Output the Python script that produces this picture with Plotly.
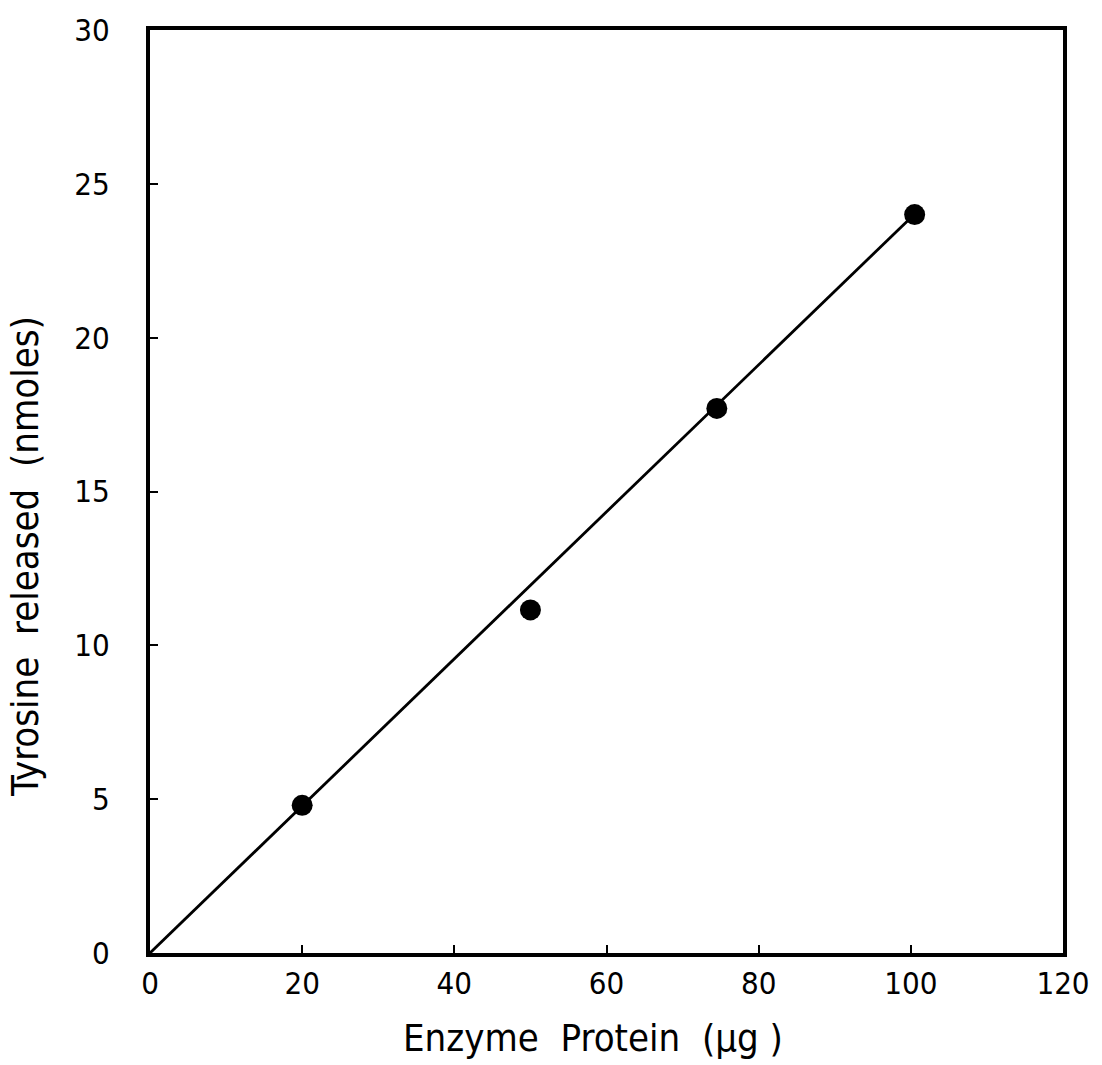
import plotly.graph_objects as go

protein_ug = [20, 50, 74.5, 100.5]
tyrosine_nmol = [4.8, 11.15, 17.7, 24.0]
fit_x = [0, 100]
fit_y = [0, 23.9]
x_ticks = [0, 20, 40, 60, 80, 100, 120]
y_ticks = [0, 5, 10, 15, 20, 25, 30]
x_title = "Enzyme  Protein  (μg )"
y_title = "Tyrosine  released  (nmoles)"

font = "DejaVu Sans Condensed, DejaVu Sans"

fig = go.Figure()
fig.add_trace(go.Scatter(x=fit_x, y=fit_y, mode="lines",
                         line=dict(color="black", width=2.8), showlegend=False))
fig.add_trace(go.Scatter(x=protein_ug, y=tyrosine_nmol, mode="markers",
                         marker=dict(color="black", size=21), showlegend=False))

fig.update_layout(
    width=1102, height=1065,
    margin=dict(l=150, r=30, t=30, b=112),
    paper_bgcolor="white", plot_bgcolor="white",
    font=dict(family=font, color="black", size=28),
    annotations=[
        dict(text=x_title, xref="paper", yref="paper", x=0.485, y=-0.092,
             xanchor="center", yanchor="middle", showarrow=False,
             font=dict(size=38)),
        dict(text=y_title, xref="paper", yref="paper", x=-0.137, y=0.43,
             xanchor="center", yanchor="middle", showarrow=False, textangle=-90,
             font=dict(size=38)),
    ],
)
fig.update_xaxes(
    range=[0, 120], tickvals=x_ticks, ticktext=[str(v) for v in x_ticks],
    ticks="inside", ticklen=8, tickwidth=2, tickcolor="black",
    showline=True, linecolor="black", linewidth=4, mirror=True,
    showgrid=False, zeroline=False,
    tickfont=dict(size=31), ticklabelstandoff=0,
)
fig.update_yaxes(
    range=[0, 30], tickvals=y_ticks, ticktext=[str(v) for v in y_ticks],
    ticks="inside", ticklen=8, tickwidth=2, tickcolor="black",
    showline=True, linecolor="black", linewidth=4, mirror=True,
    showgrid=False, zeroline=False,
    tickfont=dict(size=31), ticklabelstandoff=30,
)

fig.write_html("out.html")
